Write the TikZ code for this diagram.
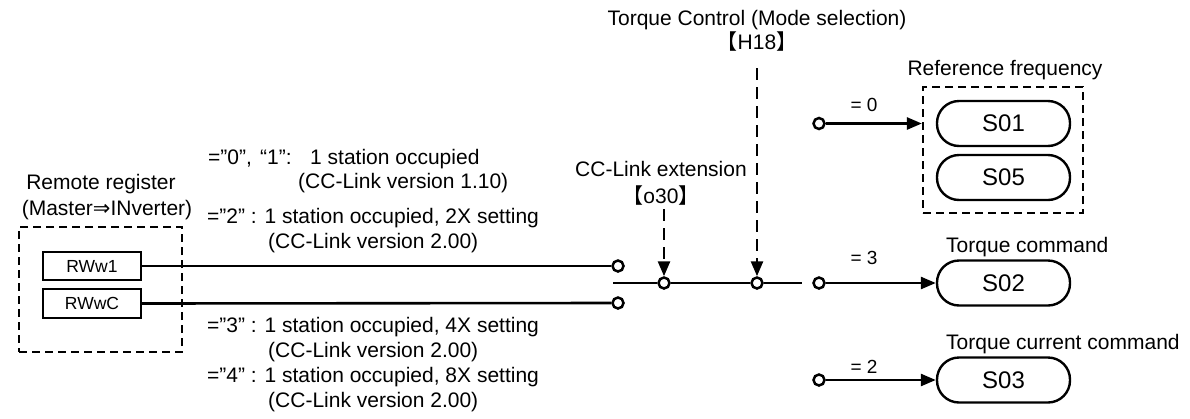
\documentclass[tikz,border=0pt]{standalone}
\usepackage{fontspec}
\setmainfont{Liberation Sans}
\newfontfamily\cjk{Noto Sans CJK JP}
\newfontfamily\djv{DejaVu Sans}
\usetikzlibrary{arrows.meta}
\tikzset{
  wire/.style={line width=2.6pt},
  arr/.style={wire,-{Triangle[length=15pt,width=12pt]}},
  dline/.style={line width=2.6pt,dash pattern=on 12pt off 7pt},
  darr/.style={dline,-{Triangle[length=15pt,width=12pt]}},
  term/.style={circle,draw,line width=2.5pt,fill=white,minimum size=11pt,inner sep=0pt},
  tx/.style={inner sep=0pt,anchor=base,font=\fontsize{21}{25}\selectfont},
  txw/.style={tx,anchor=base west},
  eqlbl/.style={inner sep=0pt,anchor=base,font=\fontsize{19}{22}\selectfont},
  dbox/.style={draw,line width=2.3pt,dash pattern=on 8pt off 5pt,inner sep=0pt},
  regbox/.style={draw,line width=2.4pt,minimum width=98pt,minimum height=28pt,inner sep=0pt,font=\fontsize{17.5}{20}\selectfont},
  pill/.style={draw,line width=2.4pt,rounded corners=22pt,minimum width=133pt,minimum height=45pt,inner sep=0pt,font=\fontsize{24}{28}\selectfont},
}
\begin{document}
\begin{tikzpicture}[x=1pt,y=-1pt]
\useasboundingbox (0,0) rectangle (1190,418);

% left: remote register
\node[tx] (rr1) at (101,189.5) {Remote register};
\node[tx] (rr2) at (107,215.5) {(Master{\djv ⇒}INverter)};
\node[dbox,minimum width=163pt,minimum height=125pt] (rbox) at (100.5,289.5) {};
\node[regbox] (rw1) at (92,266) {RWw1};
\node[regbox,minimum height=29pt] (rwc) at (92,303.5) {RWwC};

% notes
\node[txw] (n1) at (208,164.5) {\makebox[52pt][l]{=”0",}\makebox[50pt][l]{“1”:}1 station occupied};
\node[txw] (n2) at (298,188) {(CC-Link version 1.10)};
\node[txw] (n3) at (207,223) {=”2" : 1 station occupied, 2X setting};
\node[txw] (n4) at (268,248) {(CC-Link version 2.00)};
\node[txw] (n5) at (207,332.5) {=”3" : 1 station occupied, 4X setting};
\node[txw] (n6) at (268,357.5) {(CC-Link version 2.00)};
\node[txw] (n7) at (207,382.5) {=”4" : 1 station occupied, 8X setting};
\node[txw] (n8) at (268,407.5) {(CC-Link version 2.00)};

% input terminals
\node[term] (ta) at (618,266) {};
\node[term] (tb) at (618,303) {};
\draw[wire] (rw1.east) -- (ta.west);
\draw[wire] (rwc.east) -- (tb.west);

% middle switch line
\coordinate (ms) at (613,283);
\coordinate (me) at (802,283);
\node[term] (co30) at (664,283) {};
\node[term] (ch18) at (757,283) {};
\draw[wire] (ms) -- (co30.west);
\draw[wire] (co30.east) -- (ch18.west);
\draw[wire] (ch18.east) -- (me);

% CC-Link extension
\node[tx] (cce) at (661,176.5) {CC-Link extension};
\node[tx] (o30) at (661,203.5) {{\cjk 【}o30{\cjk 】}};
\coordinate (o30top) at (664,209);
\draw[darr] (o30top) -- (co30.north);

% Torque control
\node[tx] (tc) at (757,25.5) {Torque Control (Mode selection)};
\node[tx] (h18) at (757,49.5) {{\cjk 【}H18{\cjk 】}};
\coordinate (h18top) at (757,68);
\draw[darr] (h18top) -- (ch18.north);

% right side
\node[tx] (rf) at (1005,75.5) {Reference frequency};
\node[dbox,minimum width=160pt,minimum height=126pt] (refbox) at (1003,150) {};
\node[pill] (s01) at (1003.5,123.5) {S01};
\node[pill] (s05) at (1003.5,177.5) {S05};

\node[txw] (tcm) at (946,252.5) {Torque command};
\node[pill] (s02) at (1003.5,283) {S02};

\node[txw] (tcc) at (946,349.5) {Torque current command};
\node[pill] (s03) at (1003.5,380) {S03};

\node[term] (r0) at (819,123.5) {};
\node[term] (r3) at (819,283) {};
\node[term] (r2) at (819,380) {};
\draw[arr] (r0.east) -- (r0.east -| refbox.west);
\draw[arr] (r3.east) -- (s02.west);
\draw[arr] (r2.east) -- (s03.west);

\node[eqlbl] (e0) at (864,111) {= 0};
\node[eqlbl] (e3) at (864,264.5) {= 3};
\node[eqlbl] (e2) at (864,373) {= 2};
\end{tikzpicture}
\end{document}
